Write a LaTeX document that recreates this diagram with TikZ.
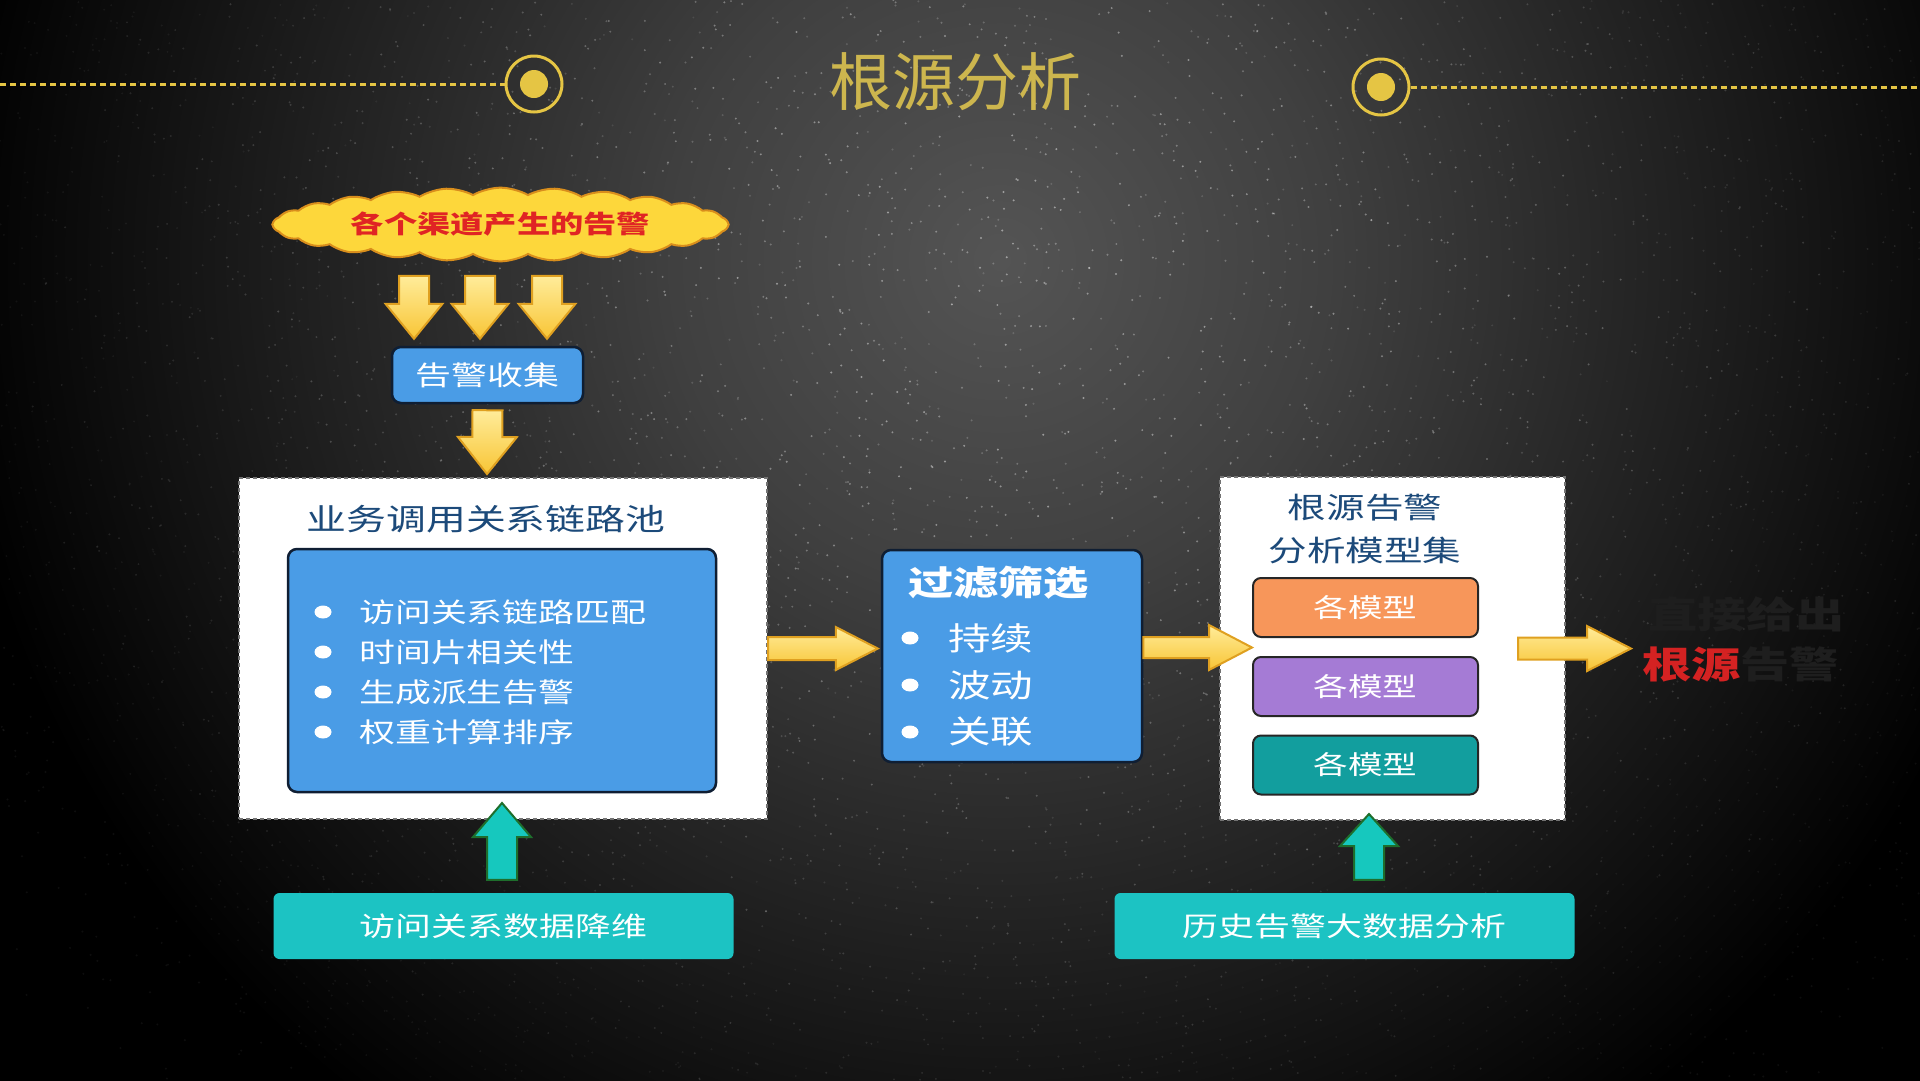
\documentclass[tikz,border=0pt]{standalone}
\usepackage{fontspec}
\setmainfont{Noto Sans CJK SC}
\newfontfamily\cjkn{Noto Sans CJK SC}
\newfontfamily\cjkw[FakeStretch=1.33]{Noto Sans CJK SC}
\usetikzlibrary{shapes.symbols,calc}

\definecolor{bgA}{gray}{0.33}
\definecolor{bgB}{gray}{0.25}
\definecolor{bgC}{gray}{0.15}
\definecolor{bgD}{gray}{0.06}
\definecolor{bgE}{gray}{0.0}
\definecolor{gold}{HTML}{E5C544}
\definecolor{titlegold}{HTML}{CDB64E}
\definecolor{boxblue}{HTML}{4A9CE6}
\definecolor{navy}{HTML}{0F1E33}
\definecolor{titleblue}{HTML}{1C4A7A}
\definecolor{cloudfill}{HTML}{FDD73B}
\definecolor{cloudedge}{HTML}{D98E1C}
\definecolor{cloudred}{HTML}{E02424}
\definecolor{arrtop}{HTML}{FFEC9A}
\definecolor{arrbot}{HTML}{F8C535}
\definecolor{arredge}{HTML}{DFA020}
\definecolor{tealarr}{HTML}{16C8BE}
\definecolor{tealedge}{HTML}{1E6E2C}
\definecolor{tealbox}{HTML}{1CC3C3}
\definecolor{morange}{HTML}{F7965A}
\definecolor{mpurple}{HTML}{A57BD5}
\definecolor{mteal}{HTML}{129E9E}
\definecolor{resred}{HTML}{D42222}
\definecolor{resdark}{HTML}{1E1E1E}

\pgfdeclareradialshading{bgshade}{\pgfpoint{0bp}{0bp}}{color(0bp)=(bgA); color(7.5bp)=(bgB); color(14bp)=(bgC); color(20bp)=(bgD); color(24bp)=(bgE); color(50bp)=(bgE)}

\tikzset{
  fz/.style={font=\cjkw\fontsize{#1}{#1}\selectfont},
  bluebox/.style={draw=navy, line width=2.5pt, fill=boxblue, rounded corners=9pt, inner sep=0pt},
  poolbox/.style={draw=black!55, fill=white, line width=2pt, dash pattern=on 4pt off 3pt, inner sep=0pt},
  modelbox/.style={draw=black!85, line width=2pt, rounded corners=8pt, inner sep=0pt, minimum width=225, minimum height=59, text=white, fz=26},
  tealbtn/.style={fill=tealbox, rounded corners=6pt, inner sep=0pt, minimum width=460, minimum height=66, text=white, fz=27},
  yarr/.style={top color=arrtop, bottom color=arrbot, draw=arredge, line width=2pt, line join=miter},
  tarr/.style={fill=tealarr, draw=tealedge, line width=2pt, line join=miter},
  bul/.style={fill=white},
}

\newcommand\blockarr[6]{%
  \coordinate (bab) at ($(#3)!#6pt!(#2)$);
  \path[#1] ($(#2)!#4pt!90:(#3)$) -- ($(bab)!#4pt!90:(#3)$) -- ($(bab)!#5pt!90:(#3)$) -- (#3)
     -- ($(bab)!#5pt!-90:(#3)$) -- ($(bab)!#4pt!-90:(#3)$) -- ($(#2)!#4pt!-90:(#3)$) -- cycle;
}

\begin{document}
\begin{tikzpicture}[x=1pt,y=-1pt]
\useasboundingbox (0,0) rectangle (1920,1080);
\clip (0,0) rectangle (1920,1080);
% background
\fill[black] (0,0) rectangle (1920,1080);
\shade[shading=bgshade] (-100,-840) rectangle (2100,1360);
\pgfmathsetseed{7}
\foreach \i in {1,...,5200}{
  \pgfmathsetmacro\xx{1920*rnd}
  \pgfmathsetmacro\yy{1080*rnd}
  \pgfmathsetmacro\op{round(20*(0.15+0.35*rnd)*exp(-(((\xx-1000)/720)^2+((\yy-300)/650)^2)))/20}
  \fill[white, opacity=\op] (\xx,\yy) circle (1.1);
}

% title bar
\node[font=\cjkn\fontsize{63}{63}\selectfont, text=titlegold, inner sep=0pt] (title) at (955,82) {根源分析};
\node[circle, draw=gold, line width=3pt, minimum size=56, inner sep=0pt] (ringL) at (534,84) {};
\node[circle, fill=gold, minimum size=28, inner sep=0pt] (dotL) at (ringL.center) {};
\node[circle, draw=gold, line width=3pt, minimum size=56, inner sep=0pt] (ringR) at (1381,87) {};
\node[circle, fill=gold, minimum size=28, inner sep=0pt] (dotR) at (ringR.center) {};
\coordinate (lineL) at (0,84);
\coordinate (lineR) at (1920,87);
\draw[gold, line width=3pt, dash pattern=on 6pt off 4pt] (lineL) -- (ringL.west);
\draw[gold, line width=3pt, dash pattern=on 6pt off 4pt] (ringR.east) -- (lineR);

% cloud
\node[cloud, cloud puffs=26, cloud puff arc=60, aspect=7, minimum width=455, minimum height=64,
      fill=cloudfill, draw=cloudedge, line width=2pt, inner sep=0pt, text=cloudred, fz=25] (cloud) at (500.5,224.5) {\bfseries 各个渠道产生的告警};

% collect box
\node[bluebox, minimum width=191, minimum height=56, text=white, fz=27] (collect) at (487.5,375) {告警收集};

% three arrows
\coordinate (a1s) at ($(collect.north)+(-73.5,-70)$);
\coordinate (a1e) at ($(collect.north)+(-73.5,-7)$);
\coordinate (a2s) at ($(collect.north)+(-7.5,-70)$);
\coordinate (a2e) at ($(collect.north)+(-7.5,-7)$);
\coordinate (a3s) at ($(collect.north)+(59.5,-70)$);
\coordinate (a3e) at ($(collect.north)+(59.5,-7)$);
\blockarr{yarr}{a1s}{a1e}{15}{28.5}{35}
\blockarr{yarr}{a2s}{a2e}{15}{28.5}{35}
\blockarr{yarr}{a3s}{a3e}{15}{28.5}{35}

% pool box
\node[poolbox, minimum width=528, minimum height=341] (pool) at (503,648.5) {};
\node[fz=30, text=titleblue, inner sep=0pt] (pooltitle) at (486,519) {业务调用关系链路池};
\node[bluebox, minimum width=428, minimum height=243] (inner) at (502,670.5) {};
\foreach \t/\yy [count=\k] in {访问关系链路匹配/612, 时间片相关性/652, 生成派生告警/692, 权重计算排序/732}{
  \fill[bul] (323,\yy) ellipse [x radius=8.5, y radius=6.5];
  \node[fz=27, text=white, anchor=west, inner sep=0pt] (li\k) at (359,\yy) {\t};
}

% arrow collect -> pool
\coordinate (a4s) at ($(collect.south)+(0,6)$);
\coordinate (a4e) at ($(pool.north)+(-16,-3)$);
\blockarr{yarr}{a4s}{a4e}{15}{29.5}{37}

% filter box
\node[bluebox, minimum width=260, minimum height=212] (filter) at (1012,656) {};
\node[fz=34, text=white, anchor=west, inner sep=0pt] (ftitle) at (908,583) {\bfseries 过滤筛选};
\foreach \t/\yy [count=\k] in {持续/638, 波动/685, 关联/732}{
  \fill[bul] (910,\yy) ellipse [x radius=8.5, y radius=6.5];
  \node[fz=32, text=white, anchor=west, inner sep=0pt] (fi\k) at (948,\yy) {\t};
}

% model set
\node[poolbox, minimum width=345, minimum height=343] (modelset) at (1392.5,648.5) {};
\node[font=\cjkw\fontsize{29}{43}\selectfont, text=titleblue, align=center, inner sep=0pt] (mtitle) at (1365,528.5) {根源告警\\分析模型集};
\node[modelbox, fill=morange] (m1) at (1365.5,607.5) {各模型};
\node[modelbox, fill=mpurple] (m2) at (1365.5,686.5) {各模型};
\node[modelbox, fill=mteal] (m3) at (1365.5,765) {各模型};

% horizontal arrows
\coordinate (a5s) at (pool.east);
\coordinate (a5e) at ($(pool.east -| filter.west)+(-3,0)$);
\blockarr{yarr}{a5s}{a5e}{11.5}{21.5}{42}
\coordinate (a6s) at ($(filter.east |- pool.east)+(0,-1)$);
\coordinate (a6e) at ($(m2.west |- pool.east)+(0,-1)$);
\blockarr{yarr}{a6s}{a6e}{10.5}{22.5}{43}
\coordinate (a7s) at ($(modelset.east)+(-48,0)$);
\coordinate (a7e) at ($(modelset.east)+(65,0)$);
\blockarr{yarr}{a7s}{a7e}{11}{22.5}{44}

% result text
\node[fz=37, anchor=west, inner sep=0pt, text=resdark] (res1) at (1648,614) {\bfseries 直接给出};
\node[fz=37, anchor=west, inner sep=0pt] (res2) at (1642,664) {\bfseries\textcolor{resred}{根源}\textcolor{resdark}{告警}};

% bottom teal boxes
\node[tealbtn] (bl) at (503.5,926) {访问关系数据降维};
\node[tealbtn] (br) at (1344.5,926) {历史告警大数据分析};
\coordinate (t1s) at ($(bl.north)+(-1.5,-13)$);
\coordinate (t1e) at ($(pool.south)+(-1,-17)$);
\blockarr{tarr}{t1s}{t1e}{15}{29}{34}
\coordinate (t2s) at ($(br.north)+(24.5,-13)$);
\coordinate (t2e) at ($(modelset.south)+(-23.5,-7)$);
\blockarr{tarr}{t2s}{t2e}{15}{29}{32}
\end{tikzpicture}
\end{document}
